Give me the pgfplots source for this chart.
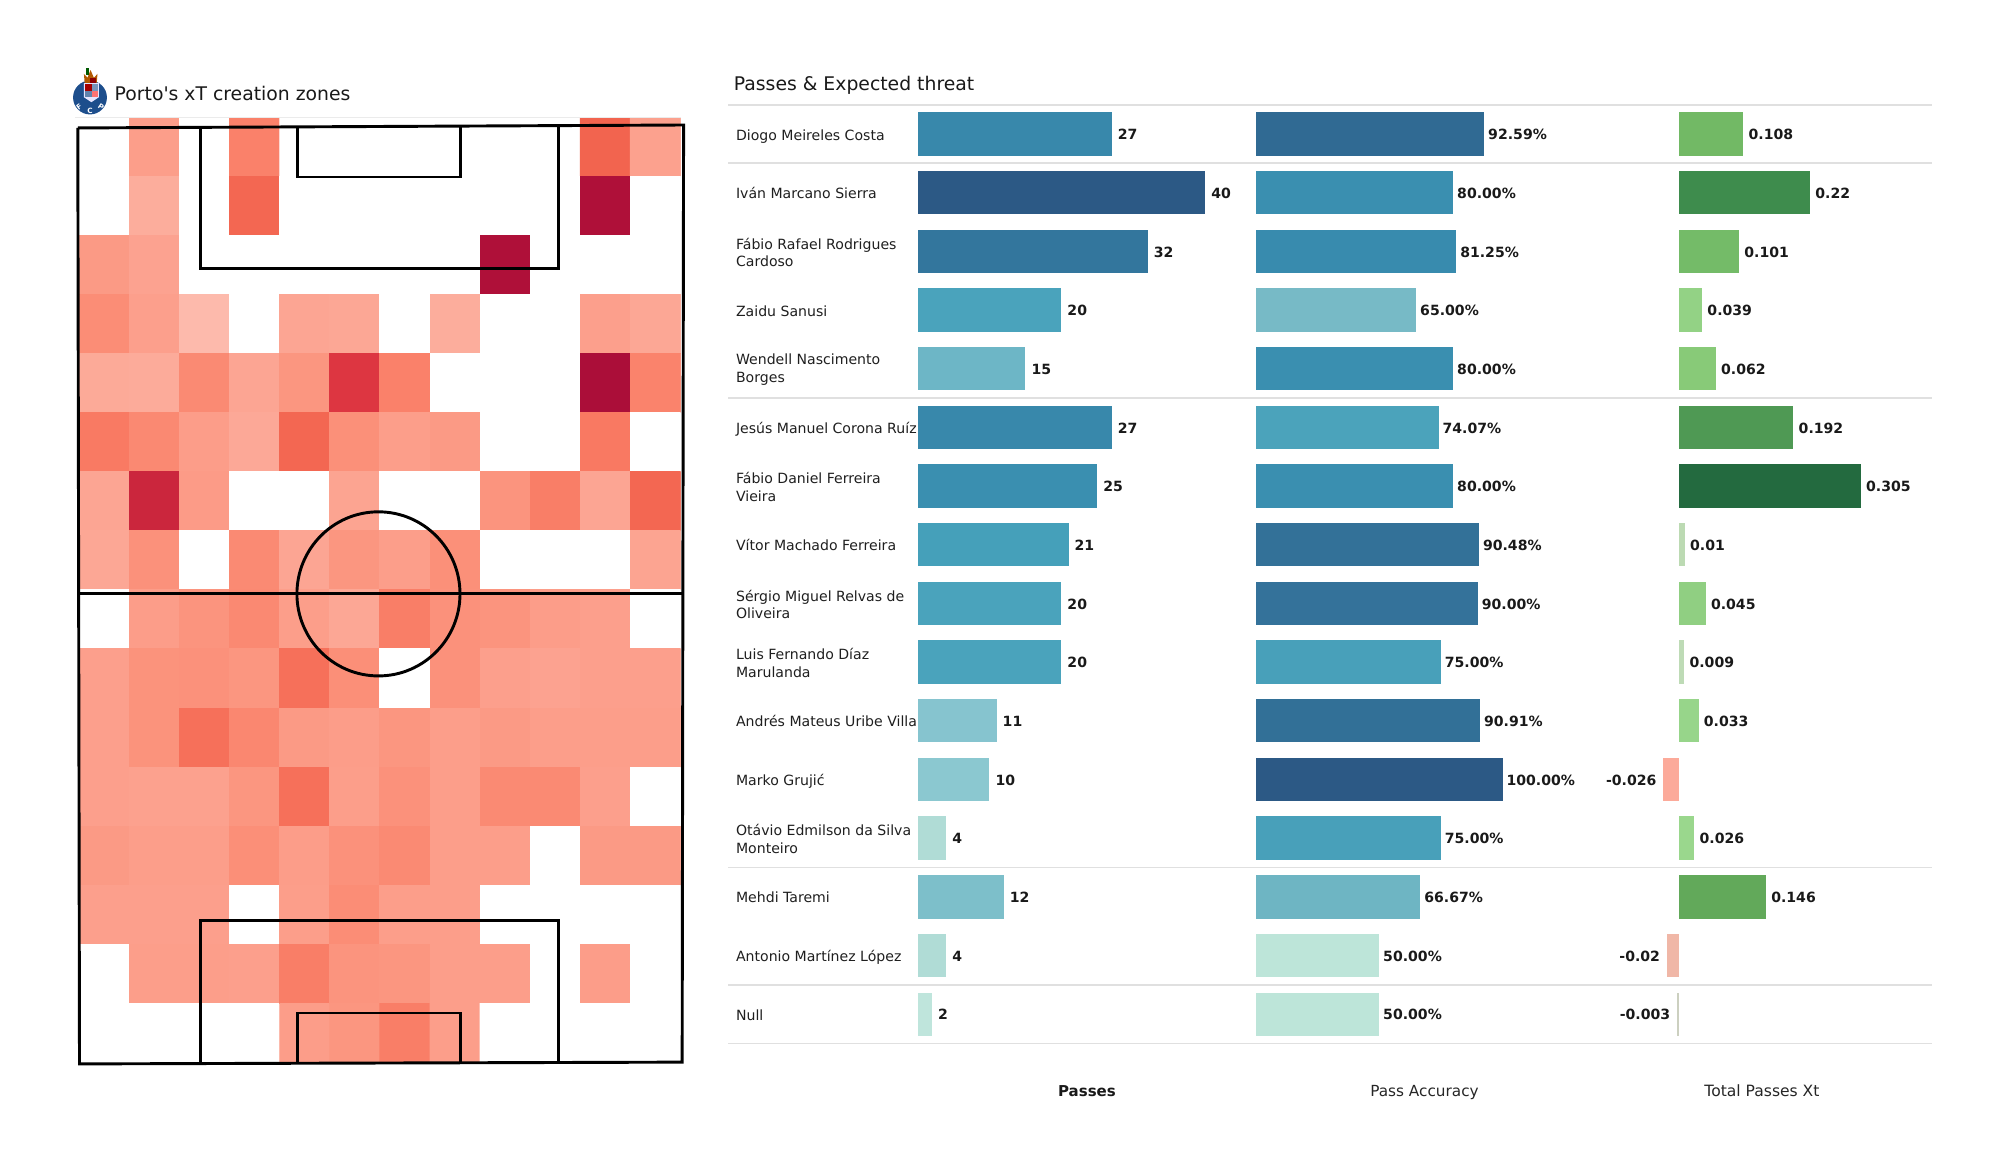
\documentclass[border=0pt]{standalone}
\usepackage{fontspec}
\setmainfont[Ligatures=TeXOff]{DejaVu Sans}
\usepackage{pgfplots}
\pgfplotsset{compat=1.18}

% 1 reference pixel = 0.36pt, so 2000x1175 px = 720x423pt
\newcommand{\lab}{\fontsize{5.07}{6.3}\selectfont}
\newcommand{\val}{\fontsize{5.07}{6.3}\selectfont\bfseries}

% bar colours, passes
\definecolor{pa}{HTML}{3888AB}\definecolor{pb}{HTML}{2C5985}\definecolor{pc}{HTML}{33769D}
\definecolor{pd}{HTML}{4AA3BC}\definecolor{pe}{HTML}{6DB6C6}\definecolor{pf}{HTML}{3A8FB0}
\definecolor{pg}{HTML}{45A0BA}\definecolor{ph}{HTML}{86C4CF}\definecolor{pi}{HTML}{8BC8D0}
\definecolor{pj}{HTML}{B0DCD6}\definecolor{pk}{HTML}{7DBFCA}\definecolor{pl}{HTML}{BFE5DC}
% pass accuracy
\definecolor{aa}{HTML}{306A93}\definecolor{ab}{HTML}{3A8FB0}\definecolor{ac}{HTML}{388BAE}
\definecolor{ad}{HTML}{77BAC6}\definecolor{ae}{HTML}{4BA3BB}\definecolor{af}{HTML}{337198}
\definecolor{ag}{HTML}{34729A}\definecolor{ah}{HTML}{48A0BA}\definecolor{ai}{HTML}{327097}
\definecolor{aj}{HTML}{2C5985}\definecolor{ak}{HTML}{6EB5C3}\definecolor{al}{HTML}{BDE5D9}
% xT
\definecolor{xa}{HTML}{72B965}\definecolor{xb}{HTML}{3E8C4D}\definecolor{xc}{HTML}{74BB68}
\definecolor{xd}{HTML}{93D285}\definecolor{xe}{HTML}{88CA78}\definecolor{xf}{HTML}{4F9954}
\definecolor{xg}{HTML}{236A3F}\definecolor{xh}{HTML}{BCDAB3}\definecolor{xi}{HTML}{90CF82}
\definecolor{xj}{HTML}{BEDBB6}\definecolor{xk}{HTML}{97D58A}\definecolor{xl}{HTML}{FCAA9A}
\definecolor{xm}{HTML}{9AD78D}\definecolor{xn}{HTML}{62A95A}\definecolor{xo}{HTML}{F0B7A7}
\definecolor{xp}{HTML}{CCD0C0}

\definecolor{rule}{HTML}{E0E0E0}
\definecolor{crest}{HTML}{1D4E8C}

\pgfplotsset{
  rows/.style={
    hide axis, scale only axis, clip=false,
    height=337.97pt, y dir=reverse, ymin=0.5, ymax=16.5,
    anchor=south west
  },
  bars/.style={
    rows, xbar, bar width=15.6pt, bar shift=0pt,
    point meta=explicit symbolic, nodes near coords,
    nodes near coords align={anchor=west},
    every node near coord/.append style={font=\val, inner sep=0pt, xshift=2pt, yshift=-0.2pt,
      text height=3.7pt, text depth=0pt, text=black!90}
  },
  neg/.style={
    nodes near coords align={anchor=east},
    every node near coord/.append style={xshift=-4pt}
  }
}

\begin{document}
\begin{tikzpicture}
\path[use as bounding box] (0,0) rectangle (720pt,-423pt);

% heat map of the 12 x 16 zones
\begin{axis}[
  at={(28.62pt,-382.57pt)}, anchor=south west,
  hide axis, scale only axis, width=216.36pt, height=340.45pt,
  xmin=0, xmax=12, ymin=0, ymax=16, y dir=reverse,
  point meta min=0, point meta max=100,
  colormap={heat}{rgb255(0pt)=(255,255,255) rgb255(5pt)=(255,255,255)
    rgb255(10pt)=(253,188,174) rgb255(25pt)=(252,165,147) rgb255(40pt)=(251,144,121)
    rgb255(55pt)=(249,122,99) rgb255(70pt)=(242,100,79) rgb255(85pt)=(220,51,64)
    rgb255(100pt)=(168,11,56)}
]
\addplot[matrix plot*, mesh/cols=12, point meta=explicit] coordinates {
(0.5,0.5)[0] (1.5,0.5)[30] (2.5,0.5)[0] (3.5,0.5)[50] (4.5,0.5)[0] (5.5,0.5)[0] (6.5,0.5)[0] (7.5,0.5)[0] (8.5,0.5)[0] (9.5,0.5)[0] (10.5,0.5)[70] (11.5,0.5)[28]
(0.5,1.5)[0] (1.5,1.5)[20] (2.5,1.5)[0] (3.5,1.5)[68] (4.5,1.5)[0] (5.5,1.5)[0] (6.5,1.5)[0] (7.5,1.5)[0] (8.5,1.5)[0] (9.5,1.5)[0] (10.5,1.5)[98] (11.5,1.5)[0]
(0.5,2.5)[33] (1.5,2.5)[27] (2.5,2.5)[0] (3.5,2.5)[0] (4.5,2.5)[0] (5.5,2.5)[0] (6.5,2.5)[0] (7.5,2.5)[0] (8.5,2.5)[98] (9.5,2.5)[0] (10.5,2.5)[0] (11.5,2.5)[0]
(0.5,3.5)[42] (1.5,3.5)[29] (2.5,3.5)[11] (3.5,3.5)[0] (4.5,3.5)[25] (5.5,3.5)[24] (6.5,3.5)[0] (7.5,3.5)[20] (8.5,3.5)[0] (9.5,3.5)[0] (10.5,3.5)[29] (11.5,3.5)[24]
(0.5,4.5)[22] (1.5,4.5)[21] (2.5,4.5)[44] (3.5,4.5)[25] (4.5,4.5)[36] (5.5,4.5)[84] (6.5,4.5)[50] (7.5,4.5)[0] (8.5,4.5)[0] (9.5,4.5)[0] (10.5,4.5)[99] (11.5,4.5)[49]
(0.5,5.5)[55] (1.5,5.5)[45] (2.5,5.5)[31] (3.5,5.5)[23] (4.5,5.5)[68] (5.5,5.5)[40] (6.5,5.5)[30] (7.5,5.5)[33] (8.5,5.5)[0] (9.5,5.5)[0] (10.5,5.5)[56] (11.5,5.5)[0]
(0.5,6.5)[25] (1.5,6.5)[90] (2.5,6.5)[32] (3.5,6.5)[0] (4.5,6.5)[0] (5.5,6.5)[26] (6.5,6.5)[0] (7.5,6.5)[0] (8.5,6.5)[37] (9.5,6.5)[52] (10.5,6.5)[25] (11.5,6.5)[68]
(0.5,7.5)[24] (1.5,7.5)[39] (2.5,7.5)[0] (3.5,7.5)[44] (4.5,7.5)[25] (5.5,7.5)[36] (6.5,7.5)[30] (7.5,7.5)[40] (8.5,7.5)[0] (9.5,7.5)[0] (10.5,7.5)[0] (11.5,7.5)[26]
(0.5,8.5)[0] (1.5,8.5)[31] (2.5,8.5)[37] (3.5,8.5)[45] (4.5,8.5)[30] (5.5,8.5)[24] (6.5,8.5)[52] (7.5,8.5)[39] (8.5,8.5)[37] (9.5,8.5)[31] (10.5,8.5)[29] (11.5,8.5)[0]
(0.5,9.5)[29] (1.5,9.5)[38] (2.5,9.5)[39] (3.5,9.5)[36] (4.5,9.5)[62] (5.5,9.5)[41] (6.5,9.5)[0] (7.5,9.5)[39] (8.5,9.5)[29] (9.5,9.5)[27] (10.5,9.5)[29] (11.5,9.5)[29]
(0.5,10.5)[29] (1.5,10.5)[38] (2.5,10.5)[62] (3.5,10.5)[46] (4.5,10.5)[33] (5.5,10.5)[31] (6.5,10.5)[36] (7.5,10.5)[30] (8.5,10.5)[33] (9.5,10.5)[30] (10.5,10.5)[30] (11.5,10.5)[30]
(0.5,11.5)[29] (1.5,11.5)[28] (2.5,11.5)[28] (3.5,11.5)[36] (4.5,11.5)[62] (5.5,11.5)[30] (6.5,11.5)[39] (7.5,11.5)[30] (8.5,11.5)[44] (9.5,11.5)[44] (10.5,11.5)[29] (11.5,11.5)[0]
(0.5,12.5)[33] (1.5,12.5)[30] (2.5,12.5)[30] (3.5,12.5)[41] (4.5,12.5)[31] (5.5,12.5)[39] (6.5,12.5)[44] (7.5,12.5)[30] (8.5,12.5)[30] (9.5,12.5)[0] (10.5,12.5)[33] (11.5,12.5)[33]
(0.5,13.5)[29] (1.5,13.5)[29] (2.5,13.5)[29] (3.5,13.5)[0] (4.5,13.5)[30] (5.5,13.5)[42] (6.5,13.5)[30] (7.5,13.5)[30] (8.5,13.5)[0] (9.5,13.5)[0] (10.5,13.5)[0] (11.5,13.5)[0]
(0.5,14.5)[0] (1.5,14.5)[30] (2.5,14.5)[30] (3.5,14.5)[29] (4.5,14.5)[52] (5.5,14.5)[37] (6.5,14.5)[36] (7.5,14.5)[30] (8.5,14.5)[30] (9.5,14.5)[0] (10.5,14.5)[31] (11.5,14.5)[0]
(0.5,15.5)[0] (1.5,15.5)[0] (2.5,15.5)[0] (3.5,15.5)[0] (4.5,15.5)[31] (5.5,15.5)[36] (6.5,15.5)[52] (7.5,15.5)[30] (8.5,15.5)[0] (9.5,15.5)[0] (10.5,15.5)[0] (11.5,15.5)[0]
};
\end{axis}

% pitch markings, metres
\begin{axis}[
  at={(28.33pt,-382.68pt)}, anchor=south west,
  hide axis, scale only axis, clip=false, width=217.44pt, height=337.14pt,
  xmin=0, xmax=68, ymin=0, ymax=105, y dir=reverse
]
\addplot[black, line width=1.05pt, sharp plot] coordinates {(-0.1,0.16) (0.09,105.1) (67.94,104.9) (68.1,-0.17) (-0.1,0.16)};
\addplot[black, line width=1.05pt, sharp plot] coordinates {(0.05,52.4) (68,52.4)};
\addplot[black, line width=0.95pt, sharp plot] coordinates {(13.7,0) (13.7,15.9) (54,15.9) (54,-0.1)};
\addplot[black, line width=0.95pt, sharp plot] coordinates {(24.6,0) (24.6,5.65) (42.95,5.65) (42.95,-0.1)};
\addplot[black, line width=0.95pt, sharp plot] coordinates {(13.7,105) (13.7,89) (54,89) (54,105)};
\addplot[black, line width=0.95pt, sharp plot] coordinates {(24.6,105) (24.6,99.4) (42.95,99.4) (42.95,105)};
\draw[black, line width=1.05pt] (axis cs:33.75,52.4) ellipse [x radius=9.18, y radius=9.2];
\end{axis}

% separators and player names
\begin{axis}[rows, at={(262.08pt,-375.66pt)}, width=433.33pt, xmin=728, xmax=1931.7]
\addplot[rule, line width=0.7pt, sharp plot] coordinates {(728,0.5) (1931.7,0.5)};
\addplot[rule, line width=0.7pt, sharp plot] coordinates {(728,1.5) (1931.7,1.5)};
\addplot[rule, line width=0.7pt, sharp plot] coordinates {(728,5.5) (1931.7,5.5)};
\addplot[rule, line width=0.7pt, sharp plot] coordinates {(728,13.5) (1931.7,13.5)};
\addplot[rule, line width=0.7pt, sharp plot] coordinates {(728,15.5) (1931.7,15.5)};
\addplot[rule, line width=0.7pt, sharp plot] coordinates {(728,16.5) (1931.7,16.5)};
\begin{scope}[every node/.style={anchor=west, font=\lab, inner sep=0pt, align=left, text=black!88},
  one/.style={text height=3.7pt, text depth=0pt, yshift=-0.3pt}, two/.style={yshift=-0.35pt}]
\node[one] at (axis cs:735.5,1) {Diogo Meireles Costa};
\node[one] at (axis cs:735.5,2) {Iván Marcano Sierra};
\node[two] at (axis cs:735.5,3) {Fábio Rafael Rodrigues\\Cardoso};
\node[one] at (axis cs:735.5,4) {Zaidu Sanusi};
\node[two] at (axis cs:735.5,5) {Wendell Nascimento\\Borges};
\node[one] at (axis cs:735.5,6) {Jesús Manuel Corona Ruíz};
\node[two] at (axis cs:735.5,7) {Fábio Daniel Ferreira\\Vieira};
\node[one] at (axis cs:735.5,8) {Vítor Machado Ferreira};
\node[two] at (axis cs:735.5,9) {Sérgio Miguel Relvas de\\Oliveira};
\node[two] at (axis cs:735.5,10) {Luis Fernando Díaz\\Marulanda};
\node[one] at (axis cs:735.5,11) {Andrés Mateus Uribe Villa};
\node[one] at (axis cs:735.5,12) {Marko Grujić};
\node[two] at (axis cs:735.5,13) {Otávio Edmilson da Silva\\Monteiro};
\node[one] at (axis cs:735.5,14) {Mehdi Taremi};
\node[one] at (axis cs:735.5,15) {Antonio Martínez López};
\node[one] at (axis cs:735.5,16) {Null};
\end{scope}
\end{axis}

% passes
\begin{axis}[bars, at={(330.3pt,-375.66pt)}, width=103.57pt, xmin=0, xmax=40]
\addplot[fill=pa, draw=none] coordinates {(27,1) [27]};
\addplot[fill=pb, draw=none] coordinates {(40,2) [40]};
\addplot[fill=pc, draw=none] coordinates {(32,3) [32]};
\addplot[fill=pd, draw=none] coordinates {(20,4) [20]};
\addplot[fill=pe, draw=none] coordinates {(15,5) [15]};
\addplot[fill=pa, draw=none] coordinates {(27,6) [27]};
\addplot[fill=pf, draw=none] coordinates {(25,7) [25]};
\addplot[fill=pg, draw=none] coordinates {(21,8) [21]};
\addplot[fill=pd, draw=none] coordinates {(20,9) [20]};
\addplot[fill=pd, draw=none] coordinates {(20,10) [20]};
\addplot[fill=ph, draw=none] coordinates {(11,11) [11]};
\addplot[fill=pi, draw=none] coordinates {(10,12) [10]};
\addplot[fill=pj, draw=none] coordinates {(4,13) [4]};
\addplot[fill=pk, draw=none] coordinates {(12,14) [12]};
\addplot[fill=pj, draw=none] coordinates {(4,15) [4]};
\addplot[fill=pl, draw=none] coordinates {(2,16) [2]};
\end{axis}

% pass accuracy
\begin{axis}[bars, at={(452.16pt,-375.66pt)}, width=88.78pt, xmin=0, xmax=100,
  every node near coord/.append style={xshift=-0.8pt}]
\addplot[fill=aa, draw=none] coordinates {(92.59,1) [92.59\%]};
\addplot[fill=ab, draw=none] coordinates {(80,2) [80.00\%]};
\addplot[fill=ac, draw=none] coordinates {(81.25,3) [81.25\%]};
\addplot[fill=ad, draw=none] coordinates {(65,4) [65.00\%]};
\addplot[fill=ab, draw=none] coordinates {(80,5) [80.00\%]};
\addplot[fill=ae, draw=none] coordinates {(74.07,6) [74.07\%]};
\addplot[fill=ab, draw=none] coordinates {(80,7) [80.00\%]};
\addplot[fill=af, draw=none] coordinates {(90.48,8) [90.48\%]};
\addplot[fill=ag, draw=none] coordinates {(90,9) [90.00\%]};
\addplot[fill=ah, draw=none] coordinates {(75,10) [75.00\%]};
\addplot[fill=ai, draw=none] coordinates {(90.91,11) [90.91\%]};
\addplot[fill=aj, draw=none] coordinates {(100,12) [100.00\%]};
\addplot[fill=ah, draw=none] coordinates {(75,13) [75.00\%]};
\addplot[fill=ak, draw=none] coordinates {(66.67,14) [66.67\%]};
\addplot[fill=al, draw=none] coordinates {(50,15) [50.00\%]};
\addplot[fill=al, draw=none] coordinates {(50,16) [50.00\%]};
\end{axis}

% total passes xT
\begin{axis}[bars, at={(604.4pt,-375.66pt)}, width=65.49pt, xmin=0, xmax=0.305,
  every node near coord/.append style={xshift=-0.3pt}]
\addplot[fill=xa, draw=none] coordinates {(0.108,1) [0.108]};
\addplot[fill=xb, draw=none] coordinates {(0.22,2) [0.22]};
\addplot[fill=xc, draw=none] coordinates {(0.101,3) [0.101]};
\addplot[fill=xd, draw=none] coordinates {(0.039,4) [0.039]};
\addplot[fill=xe, draw=none] coordinates {(0.062,5) [0.062]};
\addplot[fill=xf, draw=none] coordinates {(0.192,6) [0.192]};
\addplot[fill=xg, draw=none] coordinates {(0.305,7) [0.305]};
\addplot[fill=xh, draw=none] coordinates {(0.01,8) [0.01]};
\addplot[fill=xi, draw=none] coordinates {(0.045,9) [0.045]};
\addplot[fill=xj, draw=none] coordinates {(0.009,10) [0.009]};
\addplot[fill=xk, draw=none] coordinates {(0.033,11) [0.033]};
\addplot[fill=xl, draw=none, neg] coordinates {(-0.026,12) [-0.026]};
\addplot[fill=xm, draw=none] coordinates {(0.026,13) [0.026]};
\addplot[fill=xn, draw=none] coordinates {(0.146,14) [0.146]};
\addplot[fill=xo, draw=none, neg] coordinates {(-0.02,15) [-0.02]};
\addplot[fill=xp, draw=none, neg] coordinates {(-0.003,16) [-0.003]};
\end{axis}

% titles and column heads, positions in px * 0.36pt
\node[anchor=base west, inner sep=0pt, font=\fontsize{6.77}{8}\selectfont, text=black!90] at (41.1pt,-36.2pt) {Porto's xT creation zones};
\node[anchor=base west, inner sep=0pt, font=\fontsize{6.77}{8}\selectfont, text=black!90] at (264pt,-32.4pt) {Passes \& Expected threat};
\node[inner sep=0pt, text height=4pt, text depth=0pt, font=\fontsize{5.4}{7}\selectfont\bfseries, text=black!90] at (391.3pt,-392.6pt) {Passes};
\node[inner sep=0pt, text height=4pt, text depth=0pt, font=\fontsize{5.5}{7}\selectfont, text=black!85] at (512.8pt,-392.6pt) {Pass Accuracy};
\node[inner sep=0pt, text height=4pt, text depth=0pt, font=\fontsize{5.6}{7}\selectfont, text=black!85] at (634.3pt,-392.6pt) {Total Passes Xt};

% faint rule under the left title
\draw[black!8, line width=0.5pt] (27pt,-42.2pt) -- (245pt,-42.2pt);

% club crest, small sketch
\fill[crest] (32.4pt,-35.1pt) circle (6.1pt);
\fill[orange!70!black] (30.5pt,-30pt) -- (30.2pt,-26.6pt) -- (31.5pt,-28pt) -- (32.6pt,-25.2pt) -- (33.8pt,-28pt) -- (35.1pt,-26.6pt) -- (34.8pt,-30pt) -- cycle;
\fill[green!35!black] (30.9pt,-24.6pt) rectangle (32.2pt,-27pt);
\fill[red!55!black] (32.4pt,-28.2pt) rectangle (34.6pt,-29.8pt);
\fill[white!90!blue] (30.2pt,-29.9pt) -- (35.6pt,-29.9pt) -- (35.6pt,-35pt) -- (32.9pt,-36.8pt) -- (30.2pt,-35pt) -- cycle;
\fill[red!65!black] (30.7pt,-30.4pt) rectangle (33pt,-32.6pt);
\fill[crest!60] (33pt,-30.4pt) rectangle (35.1pt,-32.6pt);
\fill[crest!70] (30.7pt,-32.9pt) rectangle (33pt,-35pt);
\fill[red!55] (33pt,-32.9pt) rectangle (35.1pt,-35pt);
\node[inner sep=0pt, text=white, font=\fontsize{2.6}{3}\selectfont\bfseries, rotate=35] at (28.5pt,-38.6pt) {F};
\node[inner sep=0pt, text=white, font=\fontsize{2.6}{3}\selectfont\bfseries] at (32.4pt,-39.9pt) {C};
\node[inner sep=0pt, text=white, font=\fontsize{2.6}{3}\selectfont\bfseries, rotate=-35] at (36.4pt,-38.4pt) {P};
\end{tikzpicture}
\end{document}
